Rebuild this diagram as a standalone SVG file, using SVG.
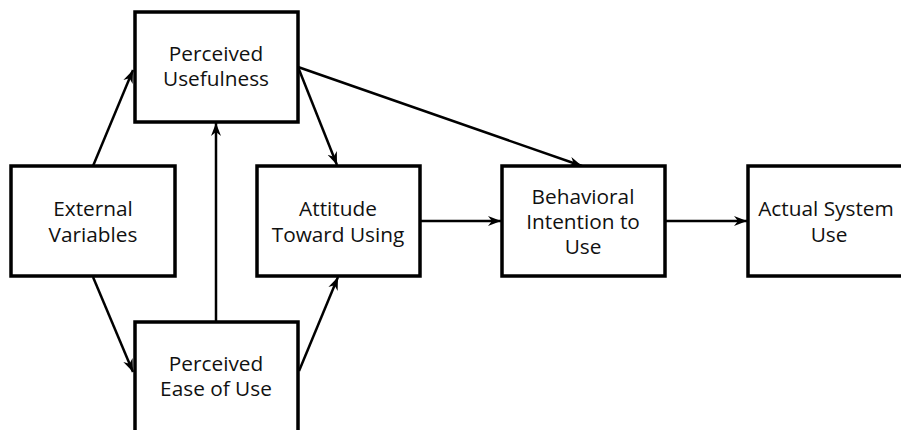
<svg xmlns="http://www.w3.org/2000/svg" width="901" height="430" viewBox="0 0 901 430">
<style>
.box{fill:#fff;stroke:#000;stroke-width:3.5}
.lbl{font-family:"Open Sans","Noto Sans",sans-serif;font-size:20.8px;fill:#111;text-anchor:middle}
.edge{stroke:#000;stroke-width:2.5;fill:none;marker-end:url(#ah)}
</style>
<defs>
<marker id="ah" markerUnits="userSpaceOnUse" markerWidth="14" markerHeight="12" viewBox="0 0 14 12" refX="13" refY="6" orient="auto">
<path d="M0,1 L13,6 L0,11 L4,6 z" fill="#000"/>
</marker>
</defs>
<rect width="901" height="430" fill="#fff"/>
<g id="connectors">
<line class="edge" x1="93" y1="166" x2="133" y2="70"/>
<line class="edge" x1="93" y1="277" x2="133" y2="372"/>
<line class="edge" x1="216" y1="322" x2="216" y2="123"/>
<line class="edge" x1="299" y1="371" x2="338" y2="277"/>
<line class="edge" x1="298" y1="67" x2="337" y2="165"/>
<line class="edge" x1="298" y1="67" x2="582" y2="166"/>
<line class="edge" x1="420" y1="221" x2="501" y2="221"/>
<line class="edge" x1="665" y1="221" x2="747" y2="221"/>
</g>
<g id="external-variables">
<rect class="box" x="11" y="166" width="164" height="110"/>
<text class="lbl" x="93" y="216">External</text>
<text class="lbl" x="93" y="242">Variables</text>
</g>
<g id="perceived-usefulness">
<rect class="box" x="135" y="12" width="163" height="110"/>
<text class="lbl" x="216" y="61">Perceived</text>
<text class="lbl" x="216" y="86">Usefulness</text>
</g>
<g id="perceived-ease-of-use">
<rect class="box" x="135" y="322" width="163" height="110"/>
<text class="lbl" x="216" y="371">Perceived</text>
<text class="lbl" x="216" y="396">Ease of Use</text>
</g>
<g id="attitude">
<rect class="box" x="257" y="166" width="163" height="110"/>
<text class="lbl" x="338" y="216">Attitude</text>
<text class="lbl" x="338" y="242">Toward Using</text>
</g>
<g id="behavioral-intention">
<rect class="box" x="502" y="166" width="163" height="110"/>
<text class="lbl" x="583" y="204">Behavioral</text>
<text class="lbl" x="583" y="229">Intention to</text>
<text class="lbl" x="583" y="254">Use</text>
</g>
<g id="actual-system-use">
<rect class="box" x="748" y="166" width="163" height="110"/>
<text class="lbl" x="826" y="216">Actual System</text>
<text class="lbl" x="829" y="242">Use</text>
</g>
</svg>
